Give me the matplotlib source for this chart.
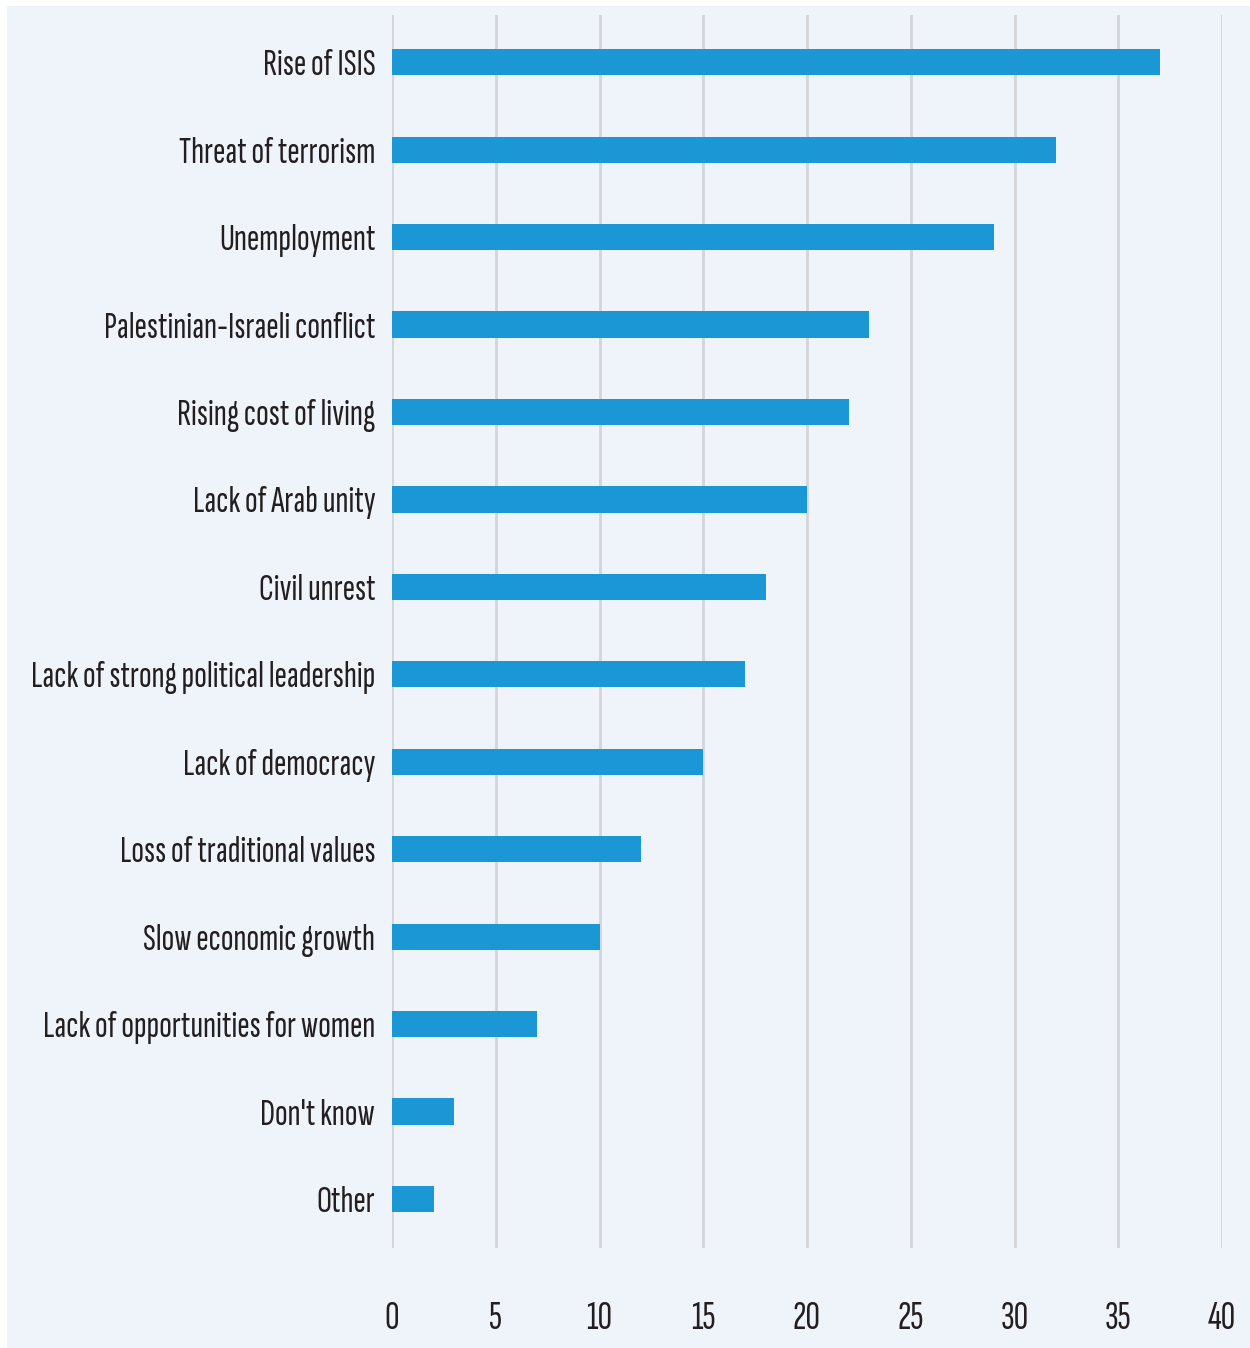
import matplotlib.pyplot as plt
from matplotlib.patches import Rectangle

# concerns and share of respondents (%)
categories = [
    "Rise of ISIS",
    "Threat of terrorism",
    "Unemployment",
    "Palestinian-Israeli conflict",
    "Rising cost of living",
    "Lack of Arab unity",
    "Civil unrest",
    "Lack of strong political leadership",
    "Lack of democracy",
    "Loss of traditional values",
    "Slow economic growth",
    "Lack of opportunities for women",
    "Don't know",
    "Other",
]
values = [37, 32, 29, 23, 22, 20, 18, 17, 15, 12, 10, 7, 3, 2]
xticks = [0, 5, 10, 15, 20, 25, 30, 35, 40]

bg = "#eff4fb"
bar_color = "#1b97d5"
text_color = "#231f20"
font = ["Sofia Sans Extra Condensed", "Pathway Gothic One", "DejaVu Sans"]

fig = plt.figure(figsize=(12.5, 13.48), dpi=100)
fig.patch.set_facecolor("white")
# light panel behind the chart
fig.patches.append(Rectangle((7 / 1250, 0), 1 - 7 / 1250, 1 - 6 / 1348,
                             transform=fig.transFigure, facecolor=bg,
                             edgecolor="none", zorder=-10))

ax = fig.add_axes([392 / 1250, 1 - 1248 / 1348, 830 / 1250, 1233 / 1348])
ax.set_facecolor(bg)

pos = list(range(len(categories)))
ax.barh(pos, values, height=0.3, color=bar_color, zorder=3)

ax.set_xlim(0, 40)
ax.set_ylim(len(categories) - 1 + 0.56, -0.54)
ax.set_xticks(xticks)
ax.set_xticklabels([str(t) for t in xticks])
ax.set_yticks(pos)
ax.set_yticklabels(categories)

for lbl in ax.get_yticklabels():
    lbl.set_fontfamily(font)
    lbl.set_fontsize(27)
    lbl.set_fontweight("semibold")
    lbl.set_color(text_color)
for lbl in ax.get_xticklabels():
    lbl.set_fontfamily(font)
    lbl.set_fontsize(29)
    lbl.set_fontweight("semibold")
    lbl.set_color(text_color)

ax.tick_params(axis="y", length=0, pad=12)
ax.tick_params(axis="x", length=0, pad=38)
ax.grid(axis="x", color="#d4d5d9", linewidth=2, zorder=1)
for s in ax.spines.values():
    s.set_visible(False)

fig.savefig("out.png", dpi=100, facecolor="white")
